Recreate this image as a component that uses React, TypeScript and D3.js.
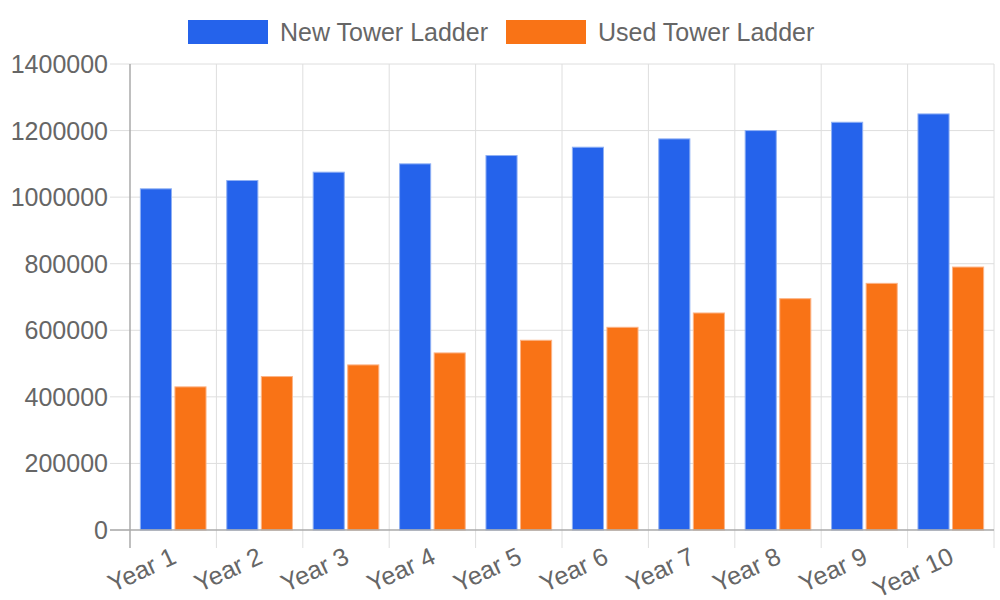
import React, { useEffect } from 'react';
import * as d3 from 'd3';

const years = ['Year 1', 'Year 2', 'Year 3', 'Year 4', 'Year 5', 'Year 6', 'Year 7', 'Year 8', 'Year 9', 'Year 10'];
const newLadder = [1025000, 1050000, 1075000, 1100000, 1125000, 1150000, 1175000, 1200000, 1225000, 1250000];
const usedLadder = [430000, 461000, 496000, 532000, 570000, 609000, 652000, 695000, 741000, 790000];
const yTicks = [0, 200000, 400000, 600000, 800000, 1000000, 1200000, 1400000];

const series = [
  { name: 'New Tower Ladder', values: newLadder, fill: '#2563eb', stroke: '#8fb0f4' },
  { name: 'Used Tower Ladder', values: usedLadder, fill: '#f97316', stroke: '#fcb487' },
];

const W = 1000;
const H = 600;
const left = 130;
const right = 994;
const top = 64;
const bottom = 530;
const fontSize = 25;
const font = '"Liberation Sans", Arial, sans-serif';
const textColor = '#666';
const gridColor = '#dedede';
const axisColor = '#aaa';

const App: React.FC = () => {
  useEffect(() => {
    document.body.style.margin = '0';
  }, []);

  const x = d3.scaleBand<string>().domain(years).range([left, right]).paddingInner(0).paddingOuter(0);
  const y = d3.scaleLinear().domain([0, 1400000]).range([bottom, top]);
  const step = x.bandwidth();
  // Chart.js-style grouping: 80% of the category, each bar 90% of its slot
  const inner = d3
    .scaleBand<number>()
    .domain(series.map((_, i) => i))
    .range([step * 0.1, step * 0.9]);
  const barW = inner.bandwidth() * 0.9;

  const gridX = years.map((d) => x(d) as number).concat([right]);

  return (
    <svg width={W} height={H} style={{ display: 'block' }} fontFamily={font}>
      {/* legend */}
      {series.map((s, i) => {
        const lx = i === 0 ? 188 : 506;
        return (
          <g key={s.name}>
            <rect x={lx} y={20} width={80} height={24} fill={s.fill} />
            <text x={lx + 92} y={32} dy="0.36em" fontSize={fontSize} fill={textColor}>
              {s.name}
            </text>
          </g>
        );
      })}

      {/* horizontal grid + y ticks */}
      {yTicks.map((t) => (
        <g key={t}>
          {t !== 0 && <line x1={left} x2={right} y1={y(t)} y2={y(t)} stroke={gridColor} strokeWidth={1} />}
          <line x1={110} x2={left} y1={y(t)} y2={y(t)} stroke={gridColor} strokeWidth={1} />
          <text x={108} y={y(t)} dy="0.36em" textAnchor="end" fontSize={fontSize} fill={textColor}>
            {t}
          </text>
        </g>
      ))}

      {/* vertical grid */}
      {gridX.map((gx, i) => (
        <line
          key={i}
          x1={gx}
          x2={gx}
          y1={top}
          y2={548}
          stroke={i === 0 ? axisColor : gridColor}
          strokeWidth={i === 0 ? 1.5 : 1}
        />
      ))}

      {/* bars */}
      {series.map((s, si) =>
        s.values.map((v, i) => {
          const bx = (x(years[i]) as number) + (inner(si) as number) + (inner.bandwidth() - barW) / 2;
          return (
            <rect
              key={`${si}-${i}`}
              x={bx}
              y={y(v)}
              width={barW}
              height={bottom - y(v)}
              fill={s.fill}
              stroke={s.stroke}
              strokeWidth={1}
            />
          );
        })
      )}

      {/* baseline */}
      <line x1={110} x2={right} y1={bottom} y2={bottom} stroke={axisColor} strokeWidth={1.5} />

      {/* x labels */}
      {years.map((d) => {
        const cx = (x(d) as number) + step / 2;
        return (
          <text
            key={d}
            transform={`translate(${cx - 3},${546}) rotate(-25)`}
            textAnchor="end"
            dy="0.72em"
            fontSize={fontSize}
            fill={textColor}
          >
            {d}
          </text>
        );
      })}
    </svg>
  );
};

export default App;
